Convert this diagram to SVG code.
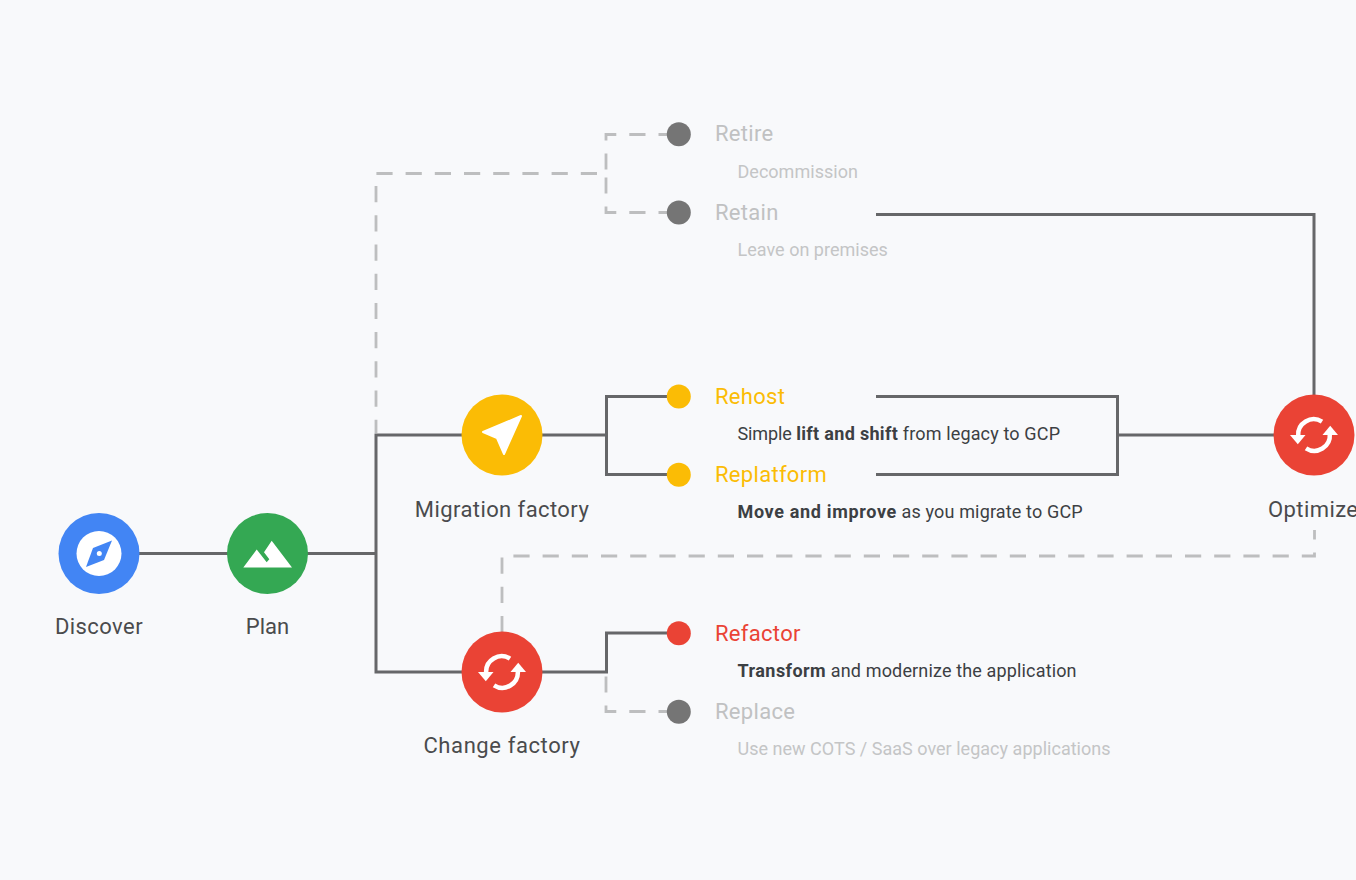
<svg xmlns="http://www.w3.org/2000/svg" width="1356" height="880" viewBox="0 0 1356 880">
<defs>
<style>
text{font-family:"Roboto","Noto Sans",sans-serif}
.solid{fill:none;stroke:#666769;stroke-width:3}
.dash{fill:none;stroke:#bdbebf;stroke-width:2.8;stroke-dasharray:16.2 13}
.off{stroke-dashoffset:6.7}
.nl{font-size:22px;fill:#4a4b4d;letter-spacing:.42px}
.hd{font-size:22px;letter-spacing:.3px}
.sub{font-size:18px;fill:#3c4043;letter-spacing:.15px}
.gsub{font-size:18px;fill:#c4c5c6;letter-spacing:.02px}
.g{fill:#c0c1c2}
.b{font-weight:700;letter-spacing:.45px}
.ico{fill:none;stroke:#fff;stroke-width:4.5}
</style>
<g id="sync">
<path class="ico" d="M8 -13.300A15.500 15.500 0 0 0 -15.800 1"/>
<path fill="#fff" d="M-24 0H-8.500L-16.200 9.300Z"/>
<path class="ico" d="M-8 13.300A15.500 15.500 0 0 0 15.800 -1"/>
<path fill="#fff" d="M24 0H8.500L16.200 -9.300Z"/>
</g>
</defs>
<rect width="1356" height="880" fill="#f8f9fb"/>
<g id="connectors">
<path class="dash" d="M597 173.500H376V433"/>
<path class="dash off" d="M668 134.500H606V173"/>
<path class="dash off" d="M668 212.500H606V174"/>
<path class="dash off" d="M668 711.500H606V673"/>
<path class="dash off" d="M1314.500 530V556H502V633"/>
<path class="solid" d="M139 553.500H376"/>
<path class="solid" d="M462 435H376V672H462"/>
<path class="solid" d="M542 435H606.500"/>
<path class="solid" d="M668 396.500H606.500V474.500H668"/>
<path class="solid" d="M542 672H606.500V633H668"/>
<path class="solid" d="M876 396.500H1117.500V474.500H876"/>
<path class="solid" d="M1117.500 435H1275"/>
<path class="solid" d="M876 214.500H1314V396"/>
</g>
<g id="discover">
<circle cx="99" cy="553.500" r="40.500" fill="#4285f4"/>
<circle cx="99" cy="553.500" r="22.500" fill="#fff"/>
<path fill="#4285f4" d="M112 540.500 L104 560 L86 567 L93 548 Z"/>
<circle cx="99.300" cy="553.500" r="2.500" fill="#fff"/>
<text class="nl" x="99" y="634" text-anchor="middle">Discover</text>
</g>
<g id="plan">
<circle cx="267.500" cy="553.500" r="40.500" fill="#34a853"/>
<path fill="#fff" d="M243.300 567.500 L256.700 549.500 L266.700 562.300 L269.300 559.300 L264 552.300 L271.700 540.700 L292 567.500 Z"/>
<text class="nl" x="267.500" y="634" text-anchor="middle" style="letter-spacing:0">Plan</text>
</g>
<g id="migration-factory">
<circle cx="502" cy="435" r="40.500" fill="#fbbc05"/>
<path fill="#fff" stroke="#fff" stroke-width="2" stroke-linejoin="round" d="M521 416 L504 454 L497 438 L483 432 Z"/>
<text class="nl" x="502" y="517" text-anchor="middle">Migration factory</text>
</g>
<g id="change-factory">
<circle cx="502" cy="672" r="40.500" fill="#ea4335"/>
<use href="#sync" x="502" y="672"/>
<text class="nl" x="502" y="753" text-anchor="middle" style="letter-spacing:.6px">Change factory</text>
</g>
<g id="optimize">
<circle cx="1314" cy="435" r="40.500" fill="#ea4335"/>
<use href="#sync" x="1314" y="435"/>
<text class="nl" x="1268" y="517">Optimize</text>
</g>
<g id="retire">
<circle cx="678.800" cy="134.300" r="12" fill="#757575"/>
<text class="hd g" x="715" y="141">Retire</text>
<text class="gsub" x="737.500" y="177.500">Decommission</text>
</g>
<g id="retain">
<circle cx="678.800" cy="212.500" r="12" fill="#757575"/>
<text class="hd g" x="715" y="219.500">Retain</text>
<text class="gsub" x="737.500" y="256">Leave on premises</text>
</g>
<g id="rehost">
<circle cx="678.800" cy="396.500" r="12" fill="#fbbc05"/>
<text class="hd" fill="#fbbc05" x="715" y="403.500">Rehost</text>
<text class="sub" x="737.500" y="439.500"><tspan style="letter-spacing:-.1px">Simple </tspan><tspan class="b" style="letter-spacing:.32px">lift and shift</tspan> from legacy to GCP</text>
</g>
<g id="replatform">
<circle cx="678.800" cy="474.800" r="12" fill="#fbbc05"/>
<text class="hd" fill="#fbbc05" x="715" y="481.700">Replatform</text>
<text class="sub" x="737.500" y="518"><tspan class="b" style="letter-spacing:.66px">Move and improve</tspan> as you migrate to GCP</text>
</g>
<g id="refactor">
<circle cx="678.800" cy="633.300" r="12" fill="#ea4335"/>
<text class="hd" fill="#ea4335" x="715" y="640.500">Refactor</text>
<text class="sub" x="737.500" y="677"><tspan class="b">Transform</tspan> and modernize the application</text>
</g>
<g id="replace">
<circle cx="678.800" cy="711.700" r="12" fill="#757575"/>
<text class="hd g" x="715" y="718.500">Replace</text>
<text class="gsub" x="737.500" y="755">Use new COTS / SaaS over legacy applications</text>
</g>
</svg>
